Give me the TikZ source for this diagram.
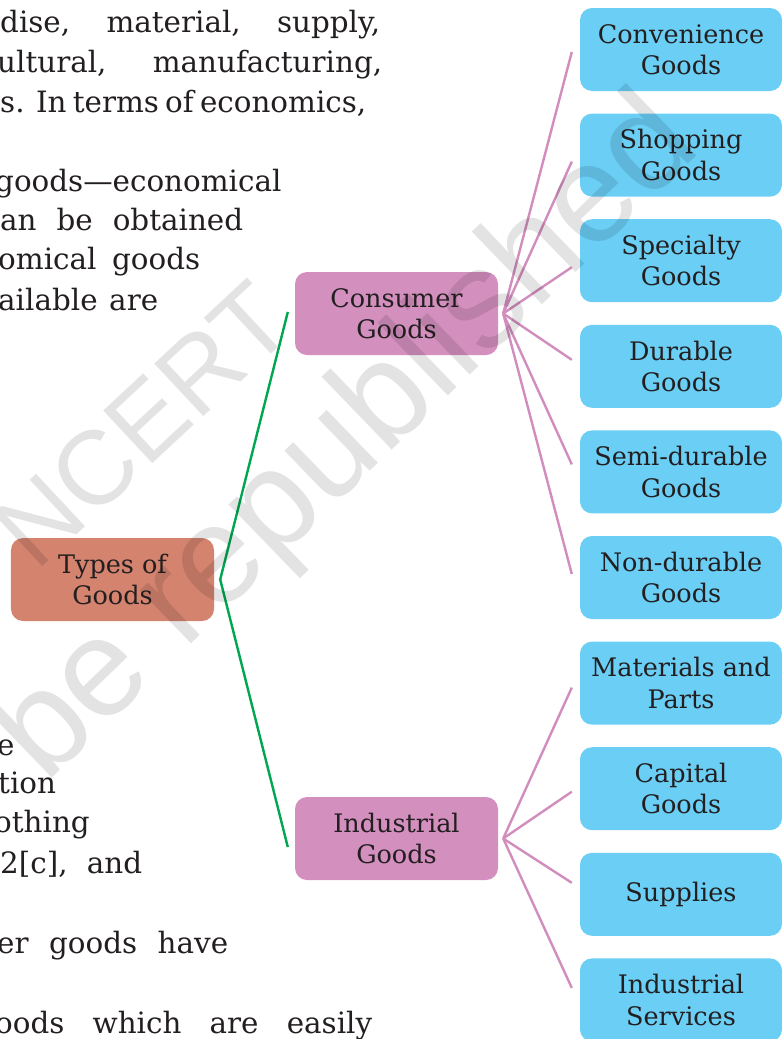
\documentclass[tikz,border=0pt]{standalone}
\usepackage{fontspec}
\setmainfont{DejaVu Serif}
\setsansfont{Liberation Sans}
\definecolor{txt}{HTML}{231F20}
\definecolor{rootc}{HTML}{D4836F}
\definecolor{midc}{HTML}{D38FBE}
\definecolor{leafc}{HTML}{6ACEF5}
\definecolor{greenc}{HTML}{00A651}
\definecolor{pinkc}{HTML}{D18DBD}
\newcommand{\jl}[2]{\hbox to #1bp{#2}}
\begin{document}
\begin{tikzpicture}[x=1bp,y=-1bp,
  box/.style={rectangle, rounded corners=12bp, inner sep=0pt, minimum width=203bp,
    minimum height=83bp, align=center, text=txt, font=\fontsize{25.6}{31.5}\selectfont},
  rootbox/.style={box, fill=rootc},
  midbox/.style={box, fill=midc},
  leafbox/.style={box, fill=leafc, minimum width=202bp},
  gline/.style={draw=greenc, line width=2.4bp},
  pline/.style={draw=pinkc, line width=2.4bp},
  body/.style={anchor=base west, inner sep=0pt, text=txt, font=\fontsize{29.5}{34}\selectfont},
  wm/.style={text=black, opacity=0.11, inner sep=0pt, anchor=base west}
]
\useasboundingbox (0,0) rectangle (782,1039);
\clip (0,0) rectangle (782,1039);

% background paragraph fragments
\node[body] (t1) at (0,32) {\jl{380}{dise, material, supply,}};
\node[body] (t2) at (-3,72) {\jl{385}{ultural, manufacturing,}};
\node[body] (t3) at (0,112) {\jl{365}{s. In terms of economics,}};
\node[body] (t4) at (-5,191) {goods—economical};
\node[body] (t5) at (0,230) {\jl{243}{an be obtained}};
\node[body] (t6) at (-2,269) {\jl{202}{omical goods}};
\node[body] (t7) at (-2,310) {\jl{160}{ailable are}};
\node[body] (t8) at (-3,755) {e};
\node[body] (t9) at (-2,793) {tion};
\node[body] (t10) at (-6,832) {othing};
\node[body] (t11) at (0,873) {\jl{142}{2[c], and}};
\node[body] (t12) at (-3,953) {\jl{231}{er goods have}};
\node[body] (t13) at (-5,1033) {\jl{377}{oods which are easily}};

% nodes
\node[rootbox] (types) at (112.5,579.5) {Types of\\Goods};
\node[midbox] (cons) at (396.5,313.5) {Consumer\\Goods};
\node[midbox] (ind) at (396.5,838.5) {Industrial\\Goods};

\node[leafbox] (conv) at (681,49.5) {Convenience\\Goods};
\node[leafbox] (shop) at (681,155.1) {Shopping\\Goods};
\node[leafbox] (spec) at (681,260.7) {Specialty\\Goods};
\node[leafbox] (dur) at (681,366.3) {Durable\\Goods};
\node[leafbox] (semi) at (681,471.9) {Semi-durable\\Goods};
\node[leafbox] (non) at (681,577.5) {Non-durable\\Goods};
\node[leafbox] (mat) at (681,683.1) {Materials and\\Parts};
\node[leafbox] (cap) at (681,788.7) {Capital\\Goods};
\node[leafbox] (sup) at (681,894.3) {Supplies};
\node[leafbox] (isv) at (681,999.9) {Industrial\\Services};

% connector junctions
\coordinate (tv) at ([xshift=6bp]types.east);
\coordinate (cv) at ([xshift=5bp]cons.east);
\coordinate (iv) at ([xshift=5bp]ind.east);

\draw[gline] ([xshift=-7bp,yshift=1.5bp]cons.west) -- (tv) -- ([xshift=-7bp,yshift=-8.5bp]ind.west);

\draw[pline] (cv) -- ([xshift=-8bp,yshift=-2.5bp]conv.west);
\draw[pline] (cv) -- ([xshift=-8bp,yshift=-6.5bp]shop.west);
\draw[pline] (cv) -- ([xshift=-8bp,yshift=-6.5bp]spec.west);
\draw[pline] (cv) -- ([xshift=-8bp,yshift=6.5bp]dur.west);
\draw[pline] (cv) -- ([xshift=-8bp,yshift=7.5bp]semi.west);
\draw[pline] (cv) -- ([xshift=-8bp,yshift=3.5bp]non.west);

\draw[pline] (iv) -- ([xshift=-8bp,yshift=-4.5bp]mat.west);
\draw[pline] (iv) -- ([xshift=-8bp,yshift=-3bp]cap.west);
\draw[pline] (iv) -- ([xshift=-8bp,yshift=11.5bp]sup.west);
\draw[pline] (iv) -- ([xshift=-8bp,yshift=12bp]isv.west);

% watermark
\node[wm, rotate=43, font=\sffamily\fontsize{105}{105}\selectfont] (wm1) at (36,573) {NCERT};
\node[wm, rotate=44, font=\sffamily\fontsize{140}{140}\selectfont] (wm2) at (45,785) {be republished};
\end{tikzpicture}
\end{document}
